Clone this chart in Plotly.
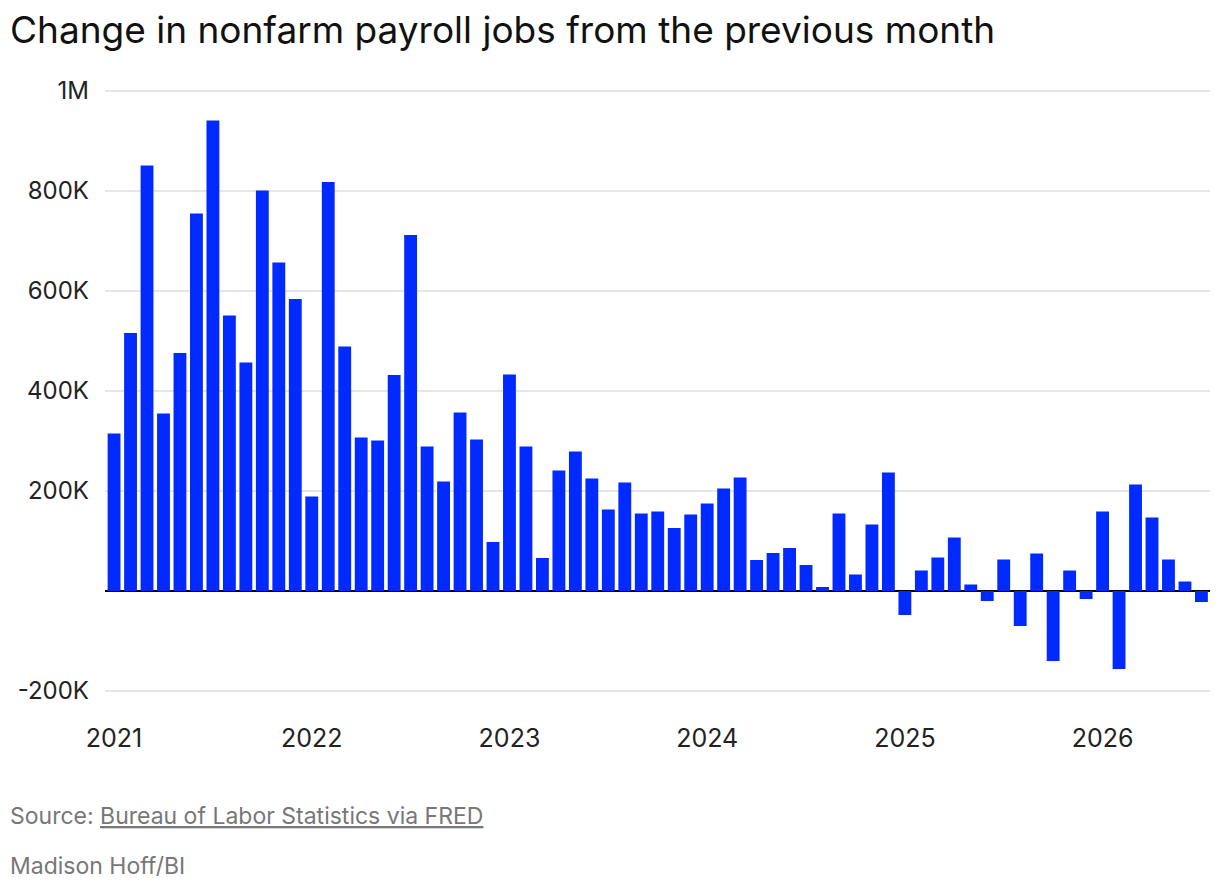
import plotly.graph_objects as go

# monthly change in nonfarm payrolls, thousands (Jan 2021 - Jul 2026)
months = [f"{y}-{m:02d}" for y in range(2021, 2027) for m in range(1, 13)][:67]
change_k = [
    315, 516, 851, 355, 476, 755, 941, 551, 457, 801, 657, 584,
    189, 818, 489, 307, 301, 432, 712, 289, 219, 357, 303, 98,
    433, 289, 66, 241, 279, 225, 163, 217, 155, 159, 126, 153,
    175, 205, 227, 62, 76, 86, 52, 8, 155, 33, 133, 237,
    -48, 41, 67, 107, 13, -20, 63, -70, 75, -140, 41, -16,
    159, -156, 213, 147, 63, 19, -22,
]
year_labels = ["2021", "2022", "2023", "2024", "2025", "2026"]
y_ticks = [-200000, 0, 200000, 400000, 600000, 800000, 1000000]
y_labels = ["-200K", "", "200K", "400K", "600K", "800K", "1M"]

FONT = "Inter"
idx = list(range(len(months)))

# page body has an 8px margin, so the figure is drawn 8px smaller / shifted
W, H = 1212, 884
L, R, T, B = 90, 10, 78, 196
plot_w = W - L - R
plot_h = H - T - B

fig = go.Figure()
fig.add_trace(go.Bar(
    x=idx,
    y=[v * 1000 for v in change_k],
    customdata=months,
    marker=dict(color="#002aff", line=dict(width=0)),
    hovertemplate="%{customdata}: %{y:,}<extra></extra>",
))

fig.update_layout(
    width=W,
    height=H,
    margin=dict(l=L, r=R, t=T, b=B),
    paper_bgcolor="white",
    plot_bgcolor="white",
    bargap=0.22,
    showlegend=False,
    font=dict(family=FONT, color="#222222", size=24),
    title=dict(
        text="Change in nonfarm payroll jobs from the previous month",
        x=2 / W, xref="container", xanchor="left",
        y=1 - 22.5 / H, yref="container", yanchor="middle",
        font=dict(family=FONT, size=37, color="#111111"),
    ),
    xaxis=dict(
        range=[-0.55, 66.52],
        tickvals=[i * 12 for i in range(len(year_labels))],
        ticktext=year_labels,
        showgrid=False,
        zeroline=False,
        showline=False,
        ticks="",
        ticklabelstandoff=25,
        tickfont=dict(size=25, color="#222222"),
    ),
    yaxis=dict(
        range=[-210000, 1010000],
        tickvals=y_ticks,
        ticktext=y_labels,
        showgrid=True,
        gridcolor="#e6e6e6",
        gridwidth=1.5,
        zeroline=True,
        zerolinecolor="#000000",
        zerolinewidth=2,
        showline=False,
        ticks="",
        ticklabelstandoff=15,
        tickfont=dict(size=24, color="#222222"),
    ),
)

fig.add_annotation(
    text="Source: <u>Bureau of Labor Statistics via FRED</u>",
    xref="paper", yref="paper", x=(-8 - L) / plot_w, y=(H - B - 808) / plot_h,
    xanchor="left", yanchor="middle", showarrow=False,
    font=dict(family=FONT, size=23, color="#777777"),
)
fig.add_annotation(
    text="Madison Hoff/BI",
    xref="paper", yref="paper", x=(-8 - L) / plot_w, y=(H - B - 858) / plot_h,
    xanchor="left", yanchor="middle", showarrow=False,
    font=dict(family=FONT, size=23, color="#777777"),
)

fig.write_html("out.html")
